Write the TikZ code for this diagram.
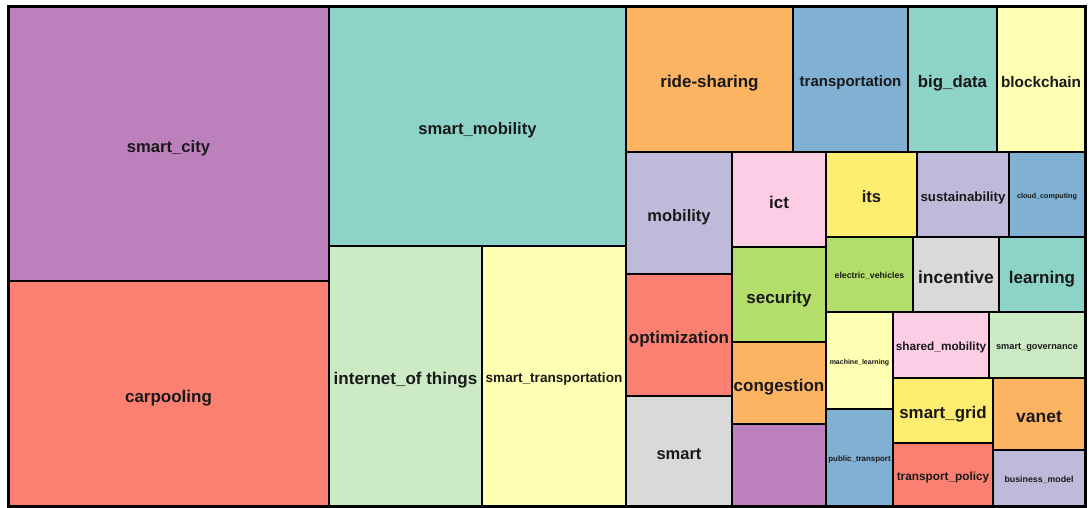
\documentclass[tikz,border=0pt]{standalone}
\usepackage{fontspec}
\setmainfont{Liberation Sans}
\usepackage{tikz}
\usetikzlibrary{
  positioning,
}
\definecolor{setteal}{HTML}{8DD3C7}
\definecolor{setcream}{HTML}{FFFFB3}
\definecolor{setlilac}{HTML}{BEBADA}
\definecolor{setsalmon}{HTML}{FB8072}
\definecolor{setblue}{HTML}{80B1D3}
\definecolor{setorange}{HTML}{FDB462}
\definecolor{setgreen}{HTML}{B3DE69}
\definecolor{setpink}{HTML}{FCCDE5}
\definecolor{setgrey}{HTML}{D9D9D9}
\definecolor{setpurple}{HTML}{BC80BD}
\definecolor{setmint}{HTML}{CCEBC5}
\definecolor{setyellow}{HTML}{FFED6F}
\tikzstyle{tile} = [
  draw=black,
  line width=2.2pt,
  rectangle,
  inner sep=0pt,
  outer sep=0pt,
  anchor=north west,
  text=black!90,
]
\tikzset{fs/.style={font=\fontsize{#1}{#1}\selectfont\bfseries,
                    text height=#1pt, text depth=0pt}}

\begin{document}
\begin{tikzpicture}[x=1pt, y=-1pt]
    \useasboundingbox (0,0) rectangle (1089,508);
    % left block
    \node [tile, fill=setpurple, fs=16.6, minimum width=321pt, minimum height=274pt]
          (city) at (8,7) {smart\_city};
    \node [tile, fill=setsalmon, fs=17, minimum width=321pt, minimum height=225pt]
          (carpool) at (8,281) {carpooling};
    \node [tile, fill=setteal, fs=16.6, minimum width=297pt, minimum height=239pt]
          (smob) at (329,7) {smart\_mobility};
    \node [tile, fill=setmint, fs=17, minimum width=153pt, minimum height=260pt]
          (iot) at (329,246) {internet\_of things};
    \node [tile, fill=setcream, fs=13.6, minimum width=144pt, minimum height=260pt]
          (strans) at (482,246) {smart\_transportation};
    % top row
    \node [tile, fill=setorange, fs=17, minimum width=167pt, minimum height=145pt]
          (ride) at (626,7) {ride-sharing};
    \node [tile, fill=setblue, fs=15, minimum width=115pt, minimum height=145pt]
          (trans) at (793,7) {transportation};
    \node [tile, fill=setteal, fs=16.8, minimum width=89pt, minimum height=145pt]
          (bigdata) at (908,7) {big\_data};
    \node [tile, fill=setcream, fs=15.3, minimum width=88pt, minimum height=145pt]
          (chain) at (997,7) {blockchain};
    % column under ride-sharing
    \node [tile, fill=setlilac, fs=16.5, minimum width=106pt, minimum height=122pt]
          (mob) at (626,152) {mobility};
    \node [tile, fill=setsalmon, fs=17, minimum width=106pt, minimum height=122pt]
          (optim) at (626,274) {optimization};
    \node [tile, fill=setgrey, fs=16.5, minimum width=106pt, minimum height=110pt]
          (smart) at (626,396) {smart};
    \node [tile, fill=setpink, fs=17, minimum width=94pt, minimum height=95pt]
          (ict) at (732,152) {ict};
    \node [tile, fill=setgreen, fs=17, minimum width=94pt, minimum height=95pt]
          (secur) at (732,247) {security};
    \node [tile, fill=setorange, fs=17, minimum width=94pt, minimum height=82pt]
          (cong) at (732,342) {congestion};
    \node [tile, fill=setpurple, minimum width=94pt, minimum height=82pt]
          (blank) at (732,424) {};
    % small tiles
    \node [tile, fill=setyellow, fs=16.6, minimum width=91pt, minimum height=85pt]
          (its) at (826,152) {its};
    \node [tile, fill=setlilac, fs=13.3, minimum width=92pt, minimum height=85pt]
          (sustain) at (917,152) {sustainability};
    \node [tile, fill=setblue, fs=7.2, minimum width=76pt, minimum height=85pt]
          (cloud) at (1009,152) {cloud\_computing};
    \node [tile, fill=setgreen, fs=8.7, minimum width=87pt, minimum height=75pt]
          (ev) at (826,237) {electric\_vehicles};
    \node [tile, fill=setgrey, fs=17.5, minimum width=86pt, minimum height=75pt]
          (incent) at (913,237) {incentive};
    \node [tile, fill=setteal, fs=17, minimum width=86pt, minimum height=75pt]
          (learn) at (999,237) {learning};
    \node [tile, fill=setcream, fs=7, minimum width=67pt, minimum height=97pt]
          (ml) at (826,312) {machine\_learning};
    \node [tile, fill=setblue, fs=7.9, minimum width=67pt, minimum height=97pt]
          (pt) at (826,409) {public\_transport};
    \node [tile, fill=setpink, fs=11.8, minimum width=96pt, minimum height=66pt]
          (shmob) at (893,312) {shared\_mobility};
    \node [tile, fill=setmint, fs=9.2, minimum width=96pt, minimum height=66pt]
          (gov) at (989,312) {smart\_governance};
    \node [tile, fill=setyellow, fs=16.9, minimum width=100pt, minimum height=65pt]
          (grid) at (893,378) {smart\_grid};
    \node [tile, fill=setsalmon, fs=11.8, minimum width=100pt, minimum height=63pt]
          (policy) at (893,443) {transport\_policy};
    \node [tile, fill=setorange, fs=17.5, minimum width=92pt, minimum height=72pt]
          (vanet) at (993,378) {vanet};
    \node [tile, fill=setlilac, fs=8.8, minimum width=92pt, minimum height=56pt]
          (bmodel) at (993,450) {business\_model};
    % outer frame
    \draw [line width=3pt] (city.north west) rectangle (bmodel.south east);
  \end{tikzpicture}
\end{document}
